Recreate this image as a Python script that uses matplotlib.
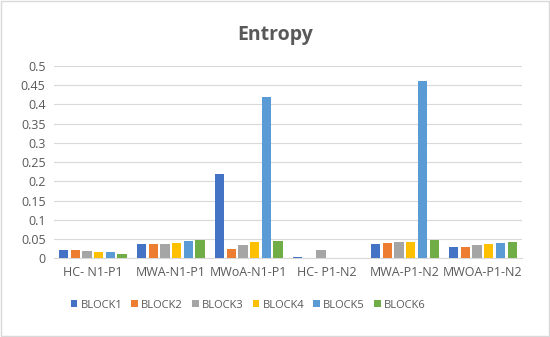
import numpy as np
from matplotlib import pyplot as plt

categories = ["HC- N1-P1", "MWA-N1-P1", "MWoA-N1-P1", "HC- P1-N2", "MWA-P1-N2", "MWOA-P1-N2"]
series = ["BLOCK1", "BLOCK2", "BLOCK3", "BLOCK4", "BLOCK5", "BLOCK6"]
block1 = [0.021, 0.038, 0.220, 0.002, 0.038, 0.029]
block2 = [0.020, 0.036, 0.025, 0.001, 0.039, 0.030]
block3 = [0.019, 0.037, 0.033, 0.020, 0.041, 0.035]
block4 = [0.016, 0.039, 0.041, 0.001, 0.043, 0.038]
block5 = [0.015, 0.045, 0.420, 0.000, 0.460, 0.039]
block6 = [0.010, 0.047, 0.044, 0.000, 0.048, 0.041]
colors = ["#4472C4", "#ED7D31", "#A5A5A5", "#FFC000", "#5B9BD5", "#70AD47"]

plt.rcParams['font.family'] = ['Open Sans', 'DejaVu Sans']
fig = plt.figure(figsize=(5.5, 3.37), dpi=100)
fig.patches.append(plt.Rectangle((0.002, 0.003), 0.996, 0.994, transform=fig.transFigure,
                                 fill=False, edgecolor="#d9d9d9", linewidth=1))
ax = fig.add_axes([0.098, 0.234, 0.851, 0.570])

x = np.arange(len(categories))
slot = 0.15
data = [block1, block2, block3, block4, block5, block6]
for i, vals in enumerate(data):
    ax.bar(x + (i - 2.5) * slot, vals, width=0.12, color=colors[i], label=series[i], zorder=3)

ax.set_xlim(-0.5, len(categories) - 0.5)
ax.set_ylim(0, 0.5)
ax.set_yticks(np.arange(0, 0.51, 0.05))
ax.set_yticklabels(["0", "0.05", "0.1", "0.15", "0.2", "0.25", "0.3", "0.35", "0.4", "0.45", "0.5"])
ax.set_xticks(x)
ax.set_xticklabels(categories)
ax.grid(axis="y", color="#d9d9d9", linewidth=0.8, zorder=0)
for s in ["top", "right", "left"]:
    ax.spines[s].set_visible(False)
ax.spines["bottom"].set_color("#d9d9d9")
ax.tick_params(axis="both", length=0, labelsize=9, colors="#595959", pad=6)

fig.text(0.5, 0.895, "Entropy", ha="center", va="center", fontsize=14, fontweight="bold", color="#595959")
ax.legend(loc="center", bbox_to_anchor=(0.415, -0.245), ncol=6, frameon=False, fontsize=8,
          handlelength=0.6, handleheight=0.6, columnspacing=0.8, handletextpad=0.3, labelcolor="#595959")

plt.savefig("out.png", dpi=100)
